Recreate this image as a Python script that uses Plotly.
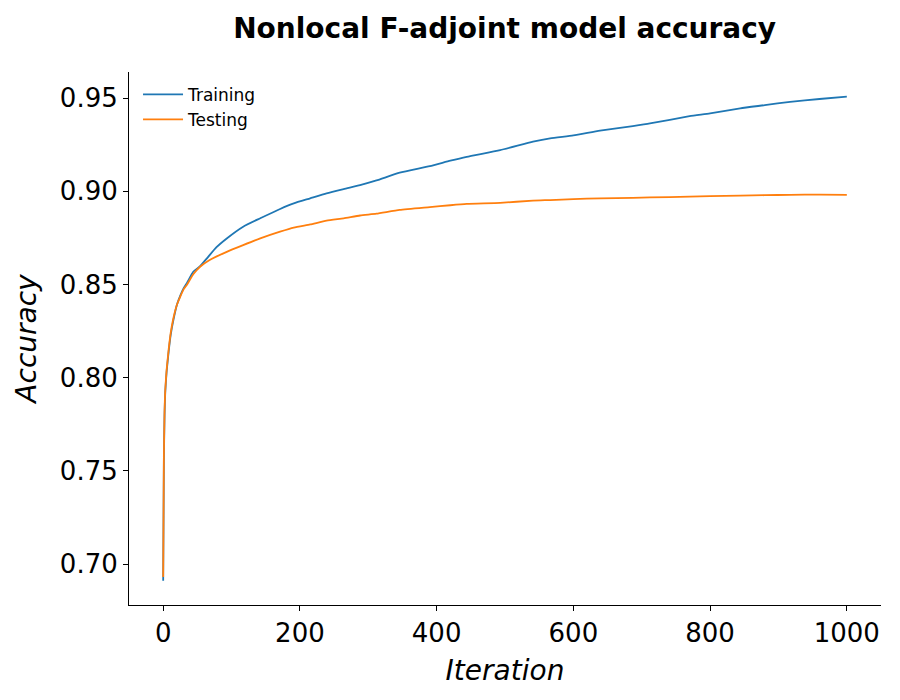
import plotly.graph_objects as go

# Values
train_iter = [0, 1, 2, 3, 5, 8, 11, 15, 20, 25, 30, 35, 44, 54, 64, 78, 93, 117, 142, 171,
              191, 215, 239, 264, 288, 312, 346, 390, 420, 444, 493, 541, 566, 600, 639,
              687, 712, 770, 800, 844, 880, 917, 960, 1000]
train_acc = [0.691, 0.755, 0.780, 0.792, 0.803, 0.814, 0.823, 0.831, 0.839, 0.844, 0.848,
             0.851, 0.8568, 0.8598, 0.8640, 0.8700, 0.8747, 0.8810, 0.8855, 0.8905,
             0.8935, 0.8962, 0.8989, 0.9012, 0.9033, 0.9058, 0.9100, 0.9135, 0.9164,
             0.9185, 0.9221, 0.9266, 0.9284, 0.9300, 0.9325, 0.9350, 0.9364, 0.9403,
             0.9418, 0.9445, 0.9462, 0.9480, 0.9495, 0.9508]

test_iter = [0, 1, 2, 3, 5, 8, 11, 15, 20, 25, 30, 35, 44, 54, 68, 93, 117, 142, 171, 191,
             215, 239, 264, 288, 312, 346, 390, 420, 444, 493, 541, 566, 600, 639, 687,
             712, 770, 800, 844, 880, 917, 960, 1000]
test_acc = [0.693, 0.757, 0.782, 0.793, 0.804, 0.815, 0.824, 0.832, 0.839, 0.8435, 0.8475,
            0.850, 0.8555, 0.8595, 0.8631, 0.8675, 0.8711, 0.8747, 0.8783, 0.8805,
            0.8822, 0.8842, 0.8855, 0.8870, 0.8880, 0.8900, 0.8915, 0.8925, 0.8932,
            0.8938, 0.8950, 0.8953, 0.8958, 0.8962, 0.8965, 0.8967, 0.8971, 0.8974,
            0.8977, 0.8979, 0.8981, 0.8982, 0.8981]

x_ticks = [0, 200, 400, 600, 800, 1000]
y_ticks = [0.70, 0.75, 0.80, 0.85, 0.90, 0.95]

FONT = "DejaVu Sans"

fig = go.Figure()
fig.add_trace(go.Scatter(x=train_iter, y=train_acc, mode="lines", name="Training",
                         line=dict(color="#1f77b4", width=1.8, shape="spline", smoothing=0.5)))
fig.add_trace(go.Scatter(x=test_iter, y=test_acc, mode="lines", name="Testing",
                         line=dict(color="#ff7f0e", width=1.8, shape="spline", smoothing=0.5)))

axis_common = dict(
    showgrid=False, zeroline=False, showline=True, linecolor="black", linewidth=1.1,
    ticks="outside", ticklen=5, tickwidth=1.1, tickcolor="black",
    tickfont=dict(family=FONT, size=26, color="black"), automargin=False,
)

fig.update_layout(
    width=900, height=700,
    paper_bgcolor="white", plot_bgcolor="white",
    margin=dict(l=129, r=19, t=72, b=95),
    font=dict(family=FONT, color="black"),
    title=dict(text="<b>Nonlocal F-adjoint model accuracy</b>",
               font=dict(family=FONT, size=28, color="black"),
               x=0.5607, xanchor="center", y=0.96, yanchor="middle"),
    xaxis=dict(range=[-50, 1050], tickvals=x_ticks, ticktext=[str(v) for v in x_ticks],
               title=dict(text="<i>Iteration</i>", font=dict(family=FONT, size=28), standoff=13),
               **axis_common),
    yaxis=dict(range=[0.678, 0.964], tickvals=y_ticks, ticktext=[f"{v:.2f}" for v in y_ticks],
               title=dict(text="<i>Accuracy</i>", font=dict(family=FONT, size=28), standoff=15),
               **axis_common),
    legend=dict(x=0.012, y=0.991, xanchor="left", yanchor="top",
                bgcolor="rgba(0,0,0,0)", borderwidth=0,
                font=dict(family=FONT, size=17, color="black"),
                itemwidth=40, tracegroupgap=0),
    showlegend=True,
)

fig.write_html("out.html", config={"displayModeBar": False},
               post_script="document.body.style.margin='0px';document.body.style.padding='0px';")
